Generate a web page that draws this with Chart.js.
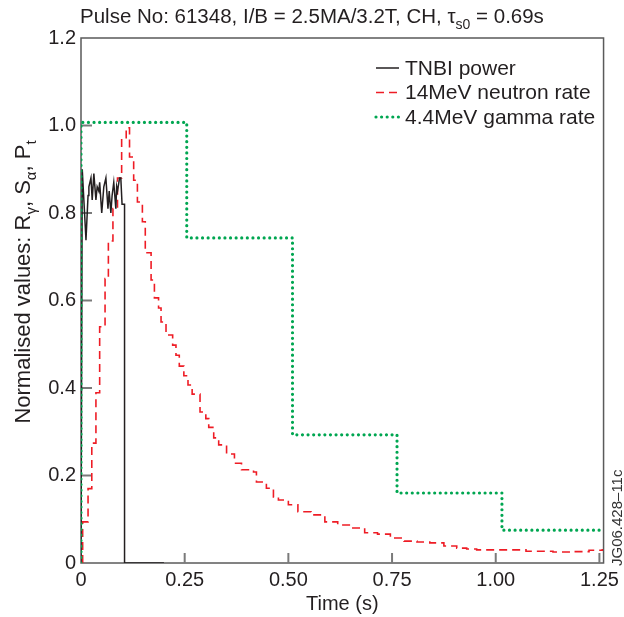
<!DOCTYPE html>
<html><head><meta charset="utf-8">
<script src="https://cdn.jsdelivr.net/npm/chart.js@4.4.0/dist/chart.umd.min.js"></script>
<style>html,body{margin:0;padding:0;background:#fff;}#wrap{width:624px;height:617px;}</style>
</head><body><div id="wrap"><canvas id="c" width="624" height="617"></canvas></div>
<script>
const FONT = '"Liberation Sans", Arial, Helvetica, sans-serif';

// ---- data ----
const seriesNames = ['TNBI power', '14MeV neutron rate', '4.4MeV gamma rate'];
const xTickValues = [0, 0.25, 0.5, 0.75, 1.0, 1.25];
const yTickValues = [0, 0.2, 0.4, 0.6, 0.8, 1.0, 1.2];

const tnbiT = [0, 0.003, 0.012, 0.017, 0.019, 0.024, 0.027, 0.031, 0.036, 0.039,
  0.043, 0.045, 0.050, 0.055, 0.060, 0.065, 0.068, 0.072, 0.075, 0.079,
  0.084, 0.086, 0.088, 0.093, 0.096, 0.099, 0.105, 0.105, 0.2];
const tnbiV = [0, 0.9, 0.738, 0.84, 0.86, 0.88, 0.83, 0.89, 0.83, 0.86,
  0.85, 0.87, 0.80, 0.86, 0.88, 0.81, 0.85, 0.80, 0.84, 0.87,
  0.81, 0.86, 0.85, 0.88, 0.88, 0.82, 0.82, 0, 0];

const neutronT = [0.004, 0.004, 0.017, 0.026, 0.036, 0.045, 0.058, 0.066, 0.077, 0.088,
  0.098, 0.109, 0.117, 0.127, 0.136, 0.148, 0.155, 0.169, 0.177, 0.187,
  0.193, 0.205, 0.221, 0.229, 0.237, 0.248, 0.258, 0.268, 0.287, 0.301,
  0.308, 0.320, 0.332, 0.351, 0.370, 0.387, 0.416, 0.423, 0.447, 0.464,
  0.476, 0.500, 0.523, 0.555, 0.588, 0.619, 0.650, 0.684, 0.715, 0.746,
  0.779, 0.810, 0.841, 0.875, 0.906, 0.930, 0.954, 1.00, 1.073, 1.138,
  1.19, 1.225, 1.257];
const neutronV = [0, 0.094, 0.17, 0.274, 0.389, 0.54, 0.65, 0.736, 0.81, 0.88,
  0.97, 0.995, 0.928, 0.875, 0.825, 0.78, 0.709, 0.647, 0.606, 0.583,
  0.551, 0.521, 0.498, 0.475, 0.45, 0.428, 0.407, 0.386, 0.345, 0.33,
  0.31, 0.286, 0.27, 0.249, 0.228, 0.213, 0.208, 0.185, 0.171, 0.151,
  0.144, 0.133, 0.117, 0.11, 0.094, 0.087, 0.08, 0.069, 0.066, 0.057,
  0.05, 0.048, 0.046, 0.039, 0.034, 0.032, 0.03, 0.03, 0.027, 0.025,
  0.026, 0.029, 0.032];

const gammaT = [0, 0, 0.255, 0.51, 0.762, 1.015, 1.257];
const gammaV = [0, 1.007, 0.743, 0.293, 0.16, 0.075, 0.075];

const titleParts = [{t: 'Pulse No: 61348, I/B = 2.5MA/3.2T, CH, \u03c4'}, {t: 's0', sub: true}, {t: ' = 0.69s'}];
const yTitleParts = [{t: 'Normalised values: R'}, {t: '\u03b3', sub: true}, {t: ', S'}, {t: '\u03b1', sub: true}, {t: ', P'}, {t: 't', sub: true}];
const xTitle = 'Time (s)';
const codeLabel = 'JG06.428\u201311c';

const COLORS = {tnbi: '#231f20', neutron: '#ee1c25', gamma: '#00a651', axis: '#5a5a5a', tick: '#7a7a7a', text: '#231f20'};

const pts = (T, V) => T.map((t, i) => ({x: t, y: V[i]}));

function drawRich(ctx, parts, x, y, size) {
  let cx = x;
  for (const p of parts) {
    if (p.sub) {
      ctx.font = Math.round(size * 0.68) + 'px ' + FONT;
      ctx.fillText(p.t, cx, y + size * 0.28);
    } else {
      ctx.font = size + 'px ' + FONT;
      ctx.fillText(p.t, cx, y);
    }
    cx += ctx.measureText(p.t).width;
  }
  return cx - x;
}
function measureRich(ctx, parts, size) {
  let w = 0;
  for (const p of parts) {
    ctx.font = (p.sub ? Math.round(size * 0.68) : size) + 'px ' + FONT;
    w += ctx.measureText(p.t).width;
  }
  return w;
}

const framePlugin = {
  id: 'frame',
  beforeDatasetsDraw(chart) {
    const {ctx, chartArea: a, scales} = chart;
    ctx.save();
    ctx.strokeStyle = COLORS.axis;
    ctx.lineWidth = 1.5;
    ctx.strokeRect(a.left, a.top, a.right - a.left, a.bottom - a.top);
    ctx.strokeStyle = COLORS.tick;
    ctx.lineWidth = 2;
    for (const v of xTickValues) {
      if (v === 0) continue;
      const px = scales.x.getPixelForValue(v);
      ctx.beginPath(); ctx.moveTo(px, a.bottom); ctx.lineTo(px, a.bottom - 10); ctx.stroke();
    }
    for (const v of yTickValues) {
      if (v === 0 || v === 1.2) continue;
      const py = scales.y.getPixelForValue(v);
      ctx.beginPath(); ctx.moveTo(a.left, py); ctx.lineTo(a.left + 11, py); ctx.stroke();
    }
    ctx.restore();
  },
  afterDraw(chart) {
    const {ctx, chartArea: a} = chart;
    ctx.save();
    ctx.fillStyle = COLORS.text;
    ctx.textBaseline = 'alphabetic';
    ctx.textAlign = 'left';
    // title
    drawRich(ctx, titleParts, 80, 23, 20.5);
    // x title
    ctx.font = '20px ' + FONT;
    ctx.textAlign = 'center';
    ctx.fillText(xTitle, (a.left + a.right) / 2, 610);
    // y title
    ctx.save();
    ctx.translate(30, 282);
    ctx.rotate(-Math.PI / 2);
    ctx.textAlign = 'left';
    const w = measureRich(ctx, yTitleParts, 22);
    drawRich(ctx, yTitleParts, -w / 2, 0, 22);
    ctx.restore();
    // code label at right
    ctx.save();
    ctx.translate(622, 566);
    ctx.rotate(-Math.PI / 2);
    ctx.font = '15px ' + FONT;
    ctx.textAlign = 'left';
    ctx.fillStyle = '#333';
    ctx.fillText(codeLabel, 0, 0);
    ctx.restore();
    // legend
    const rows = [
      {name: seriesNames[0], color: COLORS.tnbi, dash: [], w: 1.5, cap: 'butt'},
      {name: seriesNames[1], color: COLORS.neutron, dash: [8, 5], w: 1.6, cap: 'butt'},
      {name: seriesNames[2], color: COLORS.gamma, dash: [0, 5.6], w: 3.2, cap: 'round'}
    ];
    rows.forEach((r, i) => {
      const y = 68 + i * 24.5;
      ctx.beginPath();
      ctx.strokeStyle = r.color; ctx.lineWidth = r.w; ctx.setLineDash(r.dash); ctx.lineCap = r.cap;
      ctx.moveTo(376, y); ctx.lineTo(399, y); ctx.stroke();
      ctx.setLineDash([]);
      ctx.fillStyle = COLORS.text;
      ctx.font = '21px ' + FONT;
      ctx.textAlign = 'left';
      ctx.textBaseline = 'middle';
      ctx.fillText(r.name, 405, y + 1);
    });
    ctx.restore();
  }
};

new Chart(document.getElementById('c'), {
  type: 'line',
  data: {
    datasets: [
      {label: seriesNames[0], data: pts(tnbiT, tnbiV), borderColor: COLORS.tnbi, borderWidth: 1.5,
        pointRadius: 0, fill: false, tension: 0, order: 1},
      {label: seriesNames[1], data: pts(neutronT, neutronV), borderColor: COLORS.neutron, borderWidth: 1.6,
        borderDash: [8, 5], stepped: 'before', pointRadius: 0, fill: false, order: 2},
      {label: seriesNames[2], data: pts(gammaT, gammaV), borderColor: COLORS.gamma, borderWidth: 3.2,
        borderDash: [0, 5.6], borderCapStyle: 'round', stepped: 'before', pointRadius: 0, fill: false, order: 0}
    ]
  },
  options: {
    responsive: false,
    animation: false,
    devicePixelRatio: 1,
    layout: {padding: {left: 0, top: 38, right: 16, bottom: 0}},
    plugins: {legend: {display: false}, title: {display: false}, tooltip: {enabled: false}},
    elements: {line: {clip: 6}},
    scales: {
      x: {
        type: 'linear', min: 0, max: 1.26,
        grid: {display: false, drawTicks: false, tickLength: 0}, border: {display: false},
        ticks: {stepSize: 0.25, includeBounds: false, autoSkip: false, maxRotation: 0,
          callback: v => v === 0 ? '0' : Number(v).toFixed(2),
          font: {family: FONT, size: 20}, color: COLORS.text, padding: 5},
        afterFit: s => { s.height = 54; }
      },
      y: {
        type: 'linear', min: 0, max: 1.2,
        grid: {display: false, drawTicks: false, tickLength: 0}, border: {display: false},
        ticks: {stepSize: 0.2, autoSkip: false,
          callback: v => v === 0 ? '0' : Number(v).toFixed(1),
          font: {family: FONT, size: 20}, color: COLORS.text, padding: 5},
        afterFit: s => { s.width = 81; }
      }
    }
  },
  plugins: [framePlugin]
});
</script>
</body></html>
